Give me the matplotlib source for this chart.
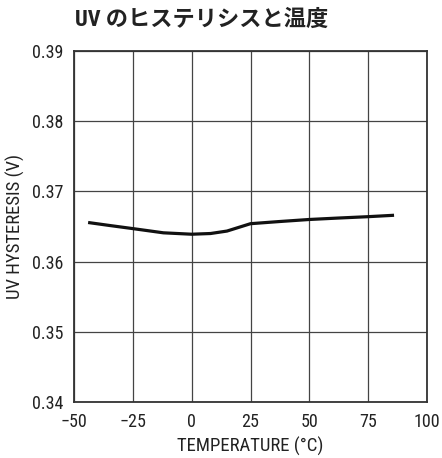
import numpy as np
import matplotlib.pyplot as plt

# ------------------------------------------------------
# DATA
# ------------------------------------------------------

temperature = [-44, -35, -25, -12, 0, 8, 15, 25, 37, 50, 62, 75, 86]
uv_hysteresis = [0.36557, 0.36515, 0.36470, 0.36410, 0.36390, 0.36400,
                 0.36435, 0.36540, 0.36570, 0.36600, 0.36620, 0.36640, 0.36660]

x_ticks = [-50, -25, 0, 25, 50, 75, 100]
x_tick_labels = ["\u221250", "\u221225", "0", "25", "50", "75", "100"]
y_ticks = [0.34, 0.35, 0.36, 0.37, 0.38, 0.39]

TITLE = "UV のヒステリシスと温度"
XLABEL = "TEMPERATURE (°C)"
YLABEL = "UV HYSTERESIS (V)"

# ------------------------------------------------------
# FONTS
# ------------------------------------------------------

plt.rcParams["font.family"] = ["Roboto Condensed", "Noto Sans CJK JP", "DejaVu Sans"]

# ------------------------------------------------------
# PLOT
# ------------------------------------------------------

fig = plt.figure(figsize=(4.42, 4.58), dpi=100)
ax = fig.add_axes([74 / 442, 56 / 458, 353 / 442, 351 / 458])

ax.plot(temperature, uv_hysteresis, color="#111111", linewidth=2.3,
        solid_capstyle="butt", zorder=3)

ax.set_xlim(-50, 100)
ax.set_ylim(0.34, 0.39)
ax.set_xticks(x_ticks)
ax.set_xticklabels(x_tick_labels)
ax.set_yticks(y_ticks)
ax.set_yticklabels([f"{v:.2f}" for v in y_ticks])
ax.tick_params(length=0, labelsize=13, colors="#222222")
ax.tick_params(axis="x", pad=8)
ax.tick_params(axis="y", pad=8)

ax.grid(True, color="#444444", linewidth=0.9)
for s in ax.spines.values():
    s.set_color("#333333")
    s.set_linewidth(1.3)

ax.set_xlabel(XLABEL, fontsize=13.5, color="#222222", labelpad=4)
ax.set_ylabel(YLABEL, fontsize=13.5, color="#222222")
ax.yaxis.set_label_coords(-0.14, 0.5)

fig.text(75 / 442, 1 - 20 / 458, TITLE, fontsize=16, fontweight="bold",
         family=["Roboto Condensed", "Noto Sans CJK JP", "DejaVu Sans"],
         va="center", ha="left", color="#222222")

plt.savefig("out.png", dpi=100)
